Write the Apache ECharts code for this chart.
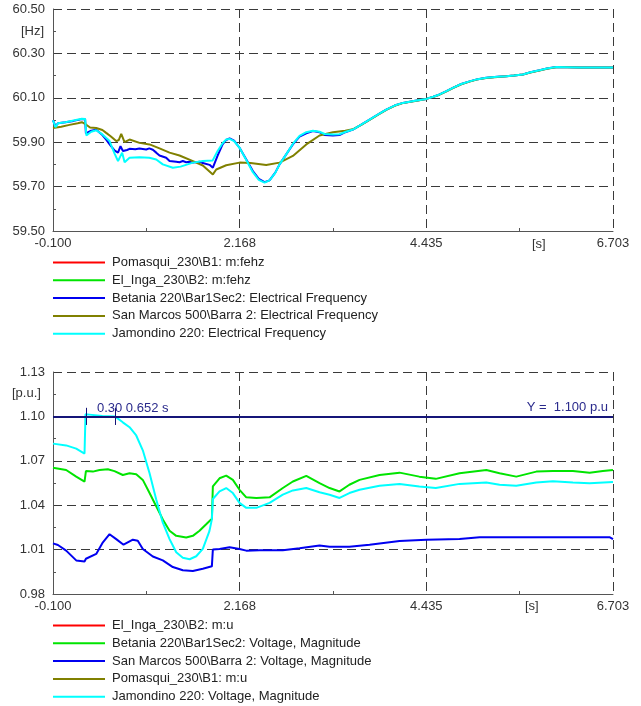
<!DOCTYPE html>
<html>
<head>
<meta charset="utf-8">
<script src="https://cdn.jsdelivr.net/npm/echarts@6/dist/echarts.min.js"></script>
<style>
  html, body { margin: 0; padding: 0; background: #fff; }
  #chart { width: 641px; height: 706px; }
</style>
</head>
<body>
<div id="chart"></div>
<script>
// ---- Frequency plot data: [time s, frequency Hz] ----
const freqPomasqui = [];
const freqElInga = [];
const freqBetania = [
  [-0.1, 59.998], [-0.07, 59.972], [-0.04, 59.985], [0.05, 59.99], [0.15, 59.996], [0.25, 60.004], [0.29, 60.003],
  [0.30, 59.94], [0.364, 59.952], [0.425, 59.956], [0.5, 59.932], [0.546, 59.912], [0.6, 59.885], [0.65, 59.862],
  [0.69, 59.853], [0.72, 59.882], [0.75, 59.86], [0.77, 59.853], [0.80, 59.865], [0.83, 59.87], [0.9, 59.868],
  [0.95, 59.872], [1.032, 59.867], [1.07, 59.872], [1.113, 59.866], [1.154, 59.853], [1.194, 59.84], [1.275, 59.83],
  [1.316, 59.815], [1.397, 59.812], [1.437, 59.81], [1.477, 59.815], [1.518, 59.81], [1.559, 59.812], [1.6, 59.808],
  [1.68, 59.812], [1.72, 59.806], [1.802, 59.798], [1.842, 59.785], [1.85, 59.792], [1.9, 59.84], [1.96, 59.89],
  [2.004, 59.91], [2.045, 59.917], [2.1, 59.907], [2.166, 59.875], [2.248, 59.822], [2.328, 59.77], [2.4, 59.735],
  [2.47, 59.72], [2.53, 59.728], [2.6, 59.763], [2.652, 59.8], [2.733, 59.845], [2.814, 59.89], [2.895, 59.925],
  [2.977, 59.94], [3.057, 59.95], [3.138, 59.945], [3.2, 59.932], [3.3, 59.93], [3.38, 59.932], [3.45, 59.945],
  [3.543, 59.957], [3.65, 59.98], [3.746, 60.002], [3.85, 60.025], [3.949, 60.047], [4.05, 60.065], [4.15, 60.077],
  [4.3, 60.087], [4.435, 60.095], [4.52, 60.105], [4.596, 60.115], [4.68, 60.13], [4.758, 60.145], [4.86, 60.162],
  [4.961, 60.174], [5.06, 60.184], [5.164, 60.19], [5.3, 60.195], [5.407, 60.197], [5.5, 60.2], [5.608, 60.205],
  [5.7, 60.215], [5.811, 60.224], [5.9, 60.232], [6.014, 60.239], [6.15, 60.238], [6.297, 60.237], [6.5, 60.237],
  [6.703, 60.237]
];
const freqSanMarcos = [
  [-0.1, 59.964], [0.0, 59.97], [0.1, 59.978], [0.2, 59.985], [0.25, 59.99], [0.3, 59.98], [0.35, 59.966],
  [0.425, 59.964], [0.5, 59.955], [0.546, 59.942], [0.6, 59.927], [0.668, 59.905], [0.7, 59.91], [0.729, 59.938],
  [0.769, 59.9], [0.83, 59.912], [0.951, 59.897], [1.073, 59.89], [1.194, 59.872], [1.316, 59.853], [1.437, 59.84],
  [1.6, 59.815], [1.72, 59.795], [1.842, 59.755], [1.883, 59.777], [2.004, 59.796], [2.166, 59.808], [2.3, 59.806],
  [2.49, 59.797], [2.652, 59.808], [2.814, 59.838], [2.977, 59.89], [3.138, 59.93], [3.3, 59.945], [3.45, 59.952],
  [3.543, 59.958], [3.65, 59.979], [3.746, 60.0], [3.85, 60.024], [3.949, 60.046], [4.05, 60.064], [4.15, 60.076],
  [4.3, 60.086], [4.435, 60.095], [4.52, 60.104], [4.596, 60.114], [4.68, 60.129], [4.758, 60.144], [4.86, 60.161],
  [4.961, 60.173], [5.06, 60.183], [5.164, 60.189], [5.3, 60.194], [5.407, 60.197], [5.5, 60.2], [5.608, 60.205],
  [5.7, 60.214], [5.811, 60.223], [5.9, 60.231], [6.014, 60.238], [6.15, 60.238], [6.297, 60.237], [6.5, 60.237],
  [6.703, 60.237]
];
const freqJamondino = [
  [-0.1, 59.999], [-0.07, 59.968], [-0.04, 59.985], [0.05, 59.99], [0.15, 59.998], [0.25, 60.006], [0.29, 60.005],
  [0.305, 59.93], [0.364, 59.947], [0.425, 59.954], [0.5, 59.935], [0.587, 59.905], [0.647, 59.85], [0.69, 59.815],
  [0.74, 59.853], [0.77, 59.81], [0.83, 59.83], [0.95, 59.832], [1.07, 59.83], [1.154, 59.822], [1.234, 59.8],
  [1.356, 59.785], [1.45, 59.79], [1.6, 59.808], [1.72, 59.815], [1.84, 59.818], [1.85, 59.825], [1.9, 59.86],
  [1.96, 59.895], [2.004, 59.912], [2.045, 59.915], [2.1, 59.905], [2.166, 59.875], [2.248, 59.82], [2.328, 59.765],
  [2.4, 59.73], [2.47, 59.718], [2.53, 59.728], [2.6, 59.762], [2.652, 59.8], [2.733, 59.845], [2.814, 59.892],
  [2.895, 59.928], [2.977, 59.945], [3.057, 59.952], [3.138, 59.947], [3.2, 59.937], [3.3, 59.935], [3.38, 59.936],
  [3.45, 59.946], [3.543, 59.957], [3.65, 59.98], [3.746, 60.002], [3.85, 60.025], [3.949, 60.047], [4.05, 60.065],
  [4.15, 60.077], [4.3, 60.087], [4.435, 60.095], [4.52, 60.105], [4.596, 60.115], [4.68, 60.13], [4.758, 60.145],
  [4.86, 60.162], [4.961, 60.174], [5.06, 60.184], [5.164, 60.19], [5.3, 60.195], [5.407, 60.197], [5.5, 60.2],
  [5.608, 60.205], [5.7, 60.215], [5.811, 60.224], [5.9, 60.232], [6.014, 60.239], [6.15, 60.238], [6.297, 60.237],
  [6.5, 60.237], [6.703, 60.237]
];

// ---- Voltage plot data: [time s, voltage p.u.] ----
const voltElInga = [];
const voltPomasqui = [];
const voltBetania = [
  [-0.1, 1.0653], [0.06, 1.0638], [0.182, 1.0593], [0.283, 1.056], [0.30, 1.0631], [0.384, 1.0627], [0.465, 1.0638],
  [0.566, 1.0643], [0.647, 1.063], [0.748, 1.0604], [0.83, 1.0616], [0.911, 1.0609], [0.991, 1.0571], [1.073, 1.0482],
  [1.154, 1.0393], [1.234, 1.0304], [1.316, 1.0227], [1.397, 1.0193], [1.518, 1.0182], [1.599, 1.0193], [1.68, 1.0227],
  [1.761, 1.0271], [1.83, 1.0309], [1.842, 1.0527], [1.923, 1.0582], [2.004, 1.06], [2.085, 1.0571], [2.166, 1.0504],
  [2.248, 1.0453], [2.37, 1.0449], [2.531, 1.0453], [2.692, 1.0516], [2.814, 1.056], [2.977, 1.0598], [3.138, 1.0549],
  [3.26, 1.0516], [3.381, 1.0493], [3.5, 1.0538], [3.624, 1.0571], [3.867, 1.0604], [4.11, 1.062], [4.35, 1.0593],
  [4.55, 1.0578], [4.839, 1.0616], [5.164, 1.0638], [5.325, 1.0616], [5.528, 1.0593], [5.771, 1.0627], [5.973, 1.0631],
  [6.216, 1.0631], [6.419, 1.062], [6.58, 1.0631], [6.703, 1.0638]
];
const voltSanMarcos = [
  [-0.1, 1.0142], [-0.04, 1.0131], [0.06, 1.0093], [0.182, 1.0027], [0.283, 1.002], [0.30, 1.0038], [0.425, 1.0071],
  [0.506, 1.0149], [0.587, 1.0204], [0.668, 1.0171], [0.757, 1.0133], [0.87, 1.0167], [0.93, 1.016], [0.991, 1.0104],
  [1.113, 1.0053], [1.234, 1.0027], [1.356, 0.9982], [1.477, 0.996], [1.599, 0.9956], [1.72, 0.9971], [1.83, 0.9987],
  [1.842, 1.01], [1.923, 1.0104], [2.045, 1.0116], [2.166, 1.0104], [2.248, 1.0093], [2.409, 1.0096], [2.692, 1.0096],
  [2.895, 1.0109], [3.138, 1.0127], [3.26, 1.012], [3.5, 1.012], [3.746, 1.0133], [4.11, 1.0158], [4.435, 1.0167],
  [4.839, 1.0171], [5.083, 1.0184], [5.569, 1.0184], [6.379, 1.0184], [6.66, 1.0184], [6.703, 1.0171]
];
const voltJamondino = [
  [-0.1, 1.0816], [0.06, 1.0804], [0.182, 1.0782], [0.283, 1.0749], [0.295, 1.1014], [0.34, 1.1012], [0.36, 1.1003],
  [0.5, 1.1002], [0.652, 1.1], [0.748, 1.096], [0.83, 1.0927], [0.911, 1.0871], [0.991, 1.0771], [1.073, 1.0616],
  [1.154, 1.0438], [1.234, 1.0282], [1.316, 1.0171], [1.397, 1.0082], [1.477, 1.0045], [1.56, 1.0035], [1.64, 1.0055],
  [1.72, 1.0105], [1.80, 1.0225], [1.83, 1.0304], [1.842, 1.0442], [1.923, 1.0493], [2.004, 1.0516], [2.085, 1.0482],
  [2.166, 1.0416], [2.248, 1.0382], [2.37, 1.0382], [2.531, 1.0416], [2.692, 1.0471], [2.814, 1.05], [2.977, 1.0516],
  [3.138, 1.0487], [3.26, 1.0471], [3.381, 1.0449], [3.5, 1.0482], [3.624, 1.0504], [3.867, 1.0531], [4.11, 1.0544],
  [4.35, 1.0527], [4.55, 1.0516], [4.839, 1.0544], [5.164, 1.0553], [5.325, 1.0538], [5.528, 1.0531], [5.771, 1.0553],
  [5.973, 1.0562], [6.216, 1.0553], [6.419, 1.0549], [6.703, 1.0556]
];

// Voltage limit line and cursor readout
const voltLimit = 1.10;
const cursorTimes = [0.30, 0.652];

// Series names (legend order)
const freqNames = [
  'Pomasqui_230\\B1: m:fehz',
  'El_Inga_230\\B2: m:fehz',
  'Betania 220\\Bar1Sec2: Electrical Frequency',
  'San Marcos 500\\Barra 2: Electrical Frequency',
  'Jamondino 220: Electrical Frequency'
];
const voltNames = [
  'El_Inga_230\\B2: m:u',
  'Betania 220\\Bar1Sec2: Voltage, Magnitude',
  'San Marcos 500\\Barra 2: Voltage, Magnitude',
  'Pomasqui_230\\B1: m:u',
  'Jamondino 220: Voltage, Magnitude'
];

// Axis ranges
const timeRange = [-0.1, 6.703];
const freqRange = [59.5, 60.5];
const freqStep = 0.2;
const voltRange = [0.98, 1.13];
const voltStep = 0.03;

const FONT = '"Liberation Sans", Arial, sans-serif';
const NAVY = '#151578';
const NAVY_TEXT = '#2a2a8c';
const GRID_LINE = { color: '#3a3a3a', type: [9, 5], width: 1 };
const MINOR_TICK = { show: true, splitNumber: 2, length: 3, lineStyle: { color: '#555', width: 1 } };

const chart = echarts.init(document.getElementById('chart'), null, { renderer: 'canvas' });

function timeAxis(grid) {
  const span = timeRange[1] - timeRange[0];
  return {
    type: 'value', gridIndex: grid, position: 'bottom',
    min: timeRange[0], max: timeRange[1], interval: span / 3,
    axisLine: { show: true, onZero: false, lineStyle: { color: '#555', width: 1 } },
    axisTick: { show: false, inside: true },
    minorTick: MINOR_TICK,
    axisLabel: { margin: 6, color: '#333', fontSize: 13, fontFamily: FONT,
      showMinLabel: true, showMaxLabel: true, formatter: v => v.toFixed(3) },
    splitLine: { show: true, lineStyle: GRID_LINE }
  };
}
function valueAxis(grid, range, step) {
  return {
    type: 'value', gridIndex: grid, position: 'left',
    min: range[0], max: range[1], interval: step,
    axisLine: { show: true, onZero: false, lineStyle: { color: '#555', width: 1 } },
    axisTick: { show: false, inside: true },
    minorTick: MINOR_TICK,
    axisLabel: { margin: 8, color: '#333', fontSize: 13, fontFamily: FONT,
      showMinLabel: true, showMaxLabel: true, formatter: v => v.toFixed(2) },
    splitLine: { show: true, lineStyle: GRID_LINE }
  };
}

function lineSeries(name, data, color, axisIdx) {
  return {
    name, type: 'line', data, xAxisIndex: axisIdx, yAxisIndex: axisIdx,
    showSymbol: false, symbol: 'none', animation: false, silent: true,
    clip: true,
    lineStyle: { color, width: 2 }, itemStyle: { color }
  };
}

const freqColors = ['#ff0000', '#00e400', '#0000f0', '#808000', '#00ffff'];
const voltColors = ['#ff0000', '#00e400', '#0000f0', '#808000', '#00ffff'];
const freqData = [freqPomasqui, freqElInga, freqBetania, freqSanMarcos, freqJamondino];
const voltData = [voltElInga, voltBetania, voltSanMarcos, voltPomasqui, voltJamondino];

const series = [];
freqNames.forEach((n, i) => series.push(lineSeries(n, freqData[i], freqColors[i], 0)));
voltNames.forEach((n, i) => series.push(lineSeries(n, voltData[i], voltColors[i], 1)));

// Limit line, cursor ticks and readout drawn on the last voltage series
const last = series[series.length - 1];
const tickHalf = 0.0058;
last.markLine = {
  silent: true, symbol: 'none', animation: false,
  data: [
    { yAxis: voltLimit, lineStyle: { color: NAVY, width: 2, type: 'solid' },
      label: { show: true, position: 'insideEndTop', distance: [5, 2],
        formatter: 'Y =  ' + voltLimit.toFixed(3) + ' p.u',
        color: NAVY_TEXT, fontSize: 13, fontFamily: FONT } },
    [ { coord: [cursorTimes[0], voltLimit - tickHalf], lineStyle: { color: NAVY, width: 1, type: 'solid' }, label: { show: false } },
      { coord: [cursorTimes[0], voltLimit + tickHalf] } ],
    [ { coord: [cursorTimes[1], voltLimit - tickHalf], lineStyle: { color: NAVY, width: 1, type: 'solid' }, label: { show: false } },
      { coord: [cursorTimes[1], voltLimit + tickHalf] } ]
  ]
};
last.markPoint = {
  silent: true, animation: false,
  data: [{
    coord: [cursorTimes[0], voltLimit], symbol: 'circle', symbolSize: 0,
    itemStyle: { color: 'rgba(0,0,0,0)' },
    label: { show: true, position: [11, -14], color: NAVY_TEXT, fontSize: 13, fontFamily: FONT,
      formatter: cursorTimes[0].toFixed(2) + ' ' + cursorTimes[1].toFixed(3) + ' s' }
  }]
};

function legendFor(names, top) {
  return {
    data: names, orient: 'vertical', left: 53, top, padding: 0,
    icon: 'rect', itemWidth: 52, itemHeight: 2, itemGap: 1.8,
    selectedMode: false,
    textStyle: { color: '#222', fontSize: 13, fontFamily: FONT, lineHeight: 16, padding: [0, 0, 0, 2] }
  };
}

const option = {
  backgroundColor: '#fff',
  animation: false,
  grid: [
    { left: 53, right: 28, top: 9, height: 222 },
    { left: 53, right: 28, top: 372, height: 222 }
  ],
  xAxis: [timeAxis(0), timeAxis(1)],
  yAxis: [valueAxis(0, freqRange, freqStep), valueAxis(1, voltRange, voltStep)],
  legend: [legendFor(freqNames, 254.5), legendFor(voltNames, 617.5)],
  series,
  graphic: [
    { type: 'text', left: 532, top: 238, style: { text: '[s]', fill: '#333', font: '13px ' + FONT } },
    { type: 'text', left: 525, top: 600, style: { text: '[s]', fill: '#333', font: '13px ' + FONT } },
    { type: 'text', left: 21, top: 25, style: { text: '[Hz]', fill: '#333', font: '13px ' + FONT } },
    { type: 'text', left: 12, top: 387, style: { text: '[p.u.]', fill: '#333', font: '13px ' + FONT } }
  ]
};
chart.setOption(option);
</script>
</body>
</html>
